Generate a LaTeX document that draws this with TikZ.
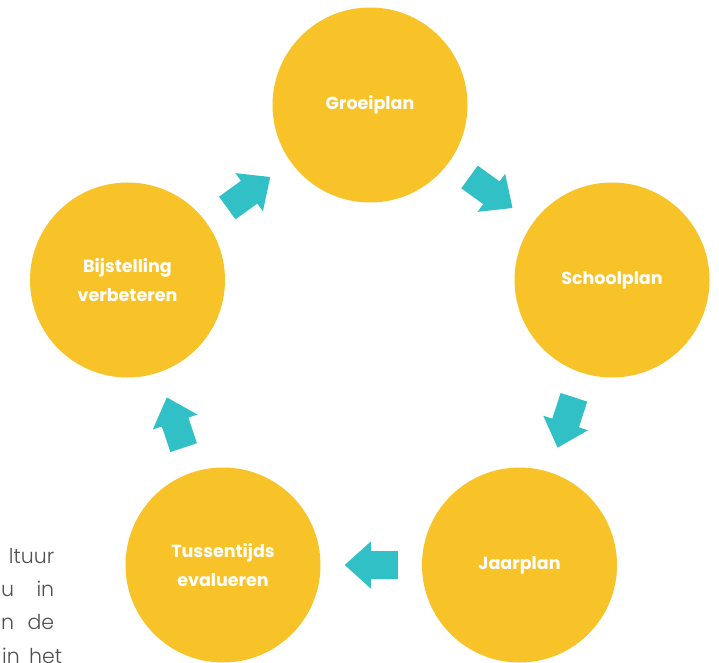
\documentclass[tikz,border=0pt]{standalone}
\usepackage{fontspec}
\setmainfont{Poppins}
\newfontfamily\lightfont{Poppins}[UprightFont=* Light]
\usetikzlibrary{calc}

\definecolor{stepyellow}{HTML}{F8C329}
\definecolor{flowteal}{HTML}{31C0C6}
\definecolor{bodygrey}{HTML}{505050}

\begin{document}
\begin{tikzpicture}[x=1pt,y=1pt,
  phase/.style={circle, fill=stepyellow, draw=none, minimum size=195pt, inner sep=0pt,
    text=white, align=center, font=\fontsize{17.5}{29}\selectfont\bfseries},
  bodytext/.style={anchor=base west, inner sep=0pt, text=bodygrey,
    font=\lightfont\fontsize{20.5}{24}\selectfont, text width=53pt},
  flowarrow/.pic={
    \fill[flowteal] (-26.5,-14) -- (0.5,-14) -- (0.5,-23.5) -- (26.5,0)
      -- (0.5,23.5) -- (0.5,14) -- (-26.5,14) -- cycle;
  }]
\useasboundingbox (0,0) rectangle (719,662);

% running text at the left margin, partly hidden
\node[bodytext] (t1) at (1,99) {\hfill ltuur};
\node[bodytext] (t2) at (1,66) {u\hfill in};
\node[bodytext] (t3) at (1,33) {n\hfill de};
\node[bodytext, text width=60pt] (t4) at (2,-1) {in\hfill het};

% the five phases of the cycle
\node[phase] (groei)  at (370,557)   {Groeiplan};
\node[phase] (school) at (612,382)   {Schoolplan};
\node[phase] (jaar)   at (519.5,97)  {Jaarplan};
\node[phase] (tuss)   at (223,97)    {Tussentijds\\evalueren};
\node[phase] (bijst)  at (127.5,382) {Bijstelling\\verbeteren};

% block arrows halfway between consecutive phases
\foreach \a/\b in {groei/school, school/jaar, jaar/tuss, tuss/bijst, bijst/groei}{
  \path let \p1=($(\b)-(\a)$), \n1={atan2(\y1,\x1)} in
    pic[rotate=\n1] at ($(\a)!0.5!(\b)$) {flowarrow};
}
\end{tikzpicture}
\end{document}
